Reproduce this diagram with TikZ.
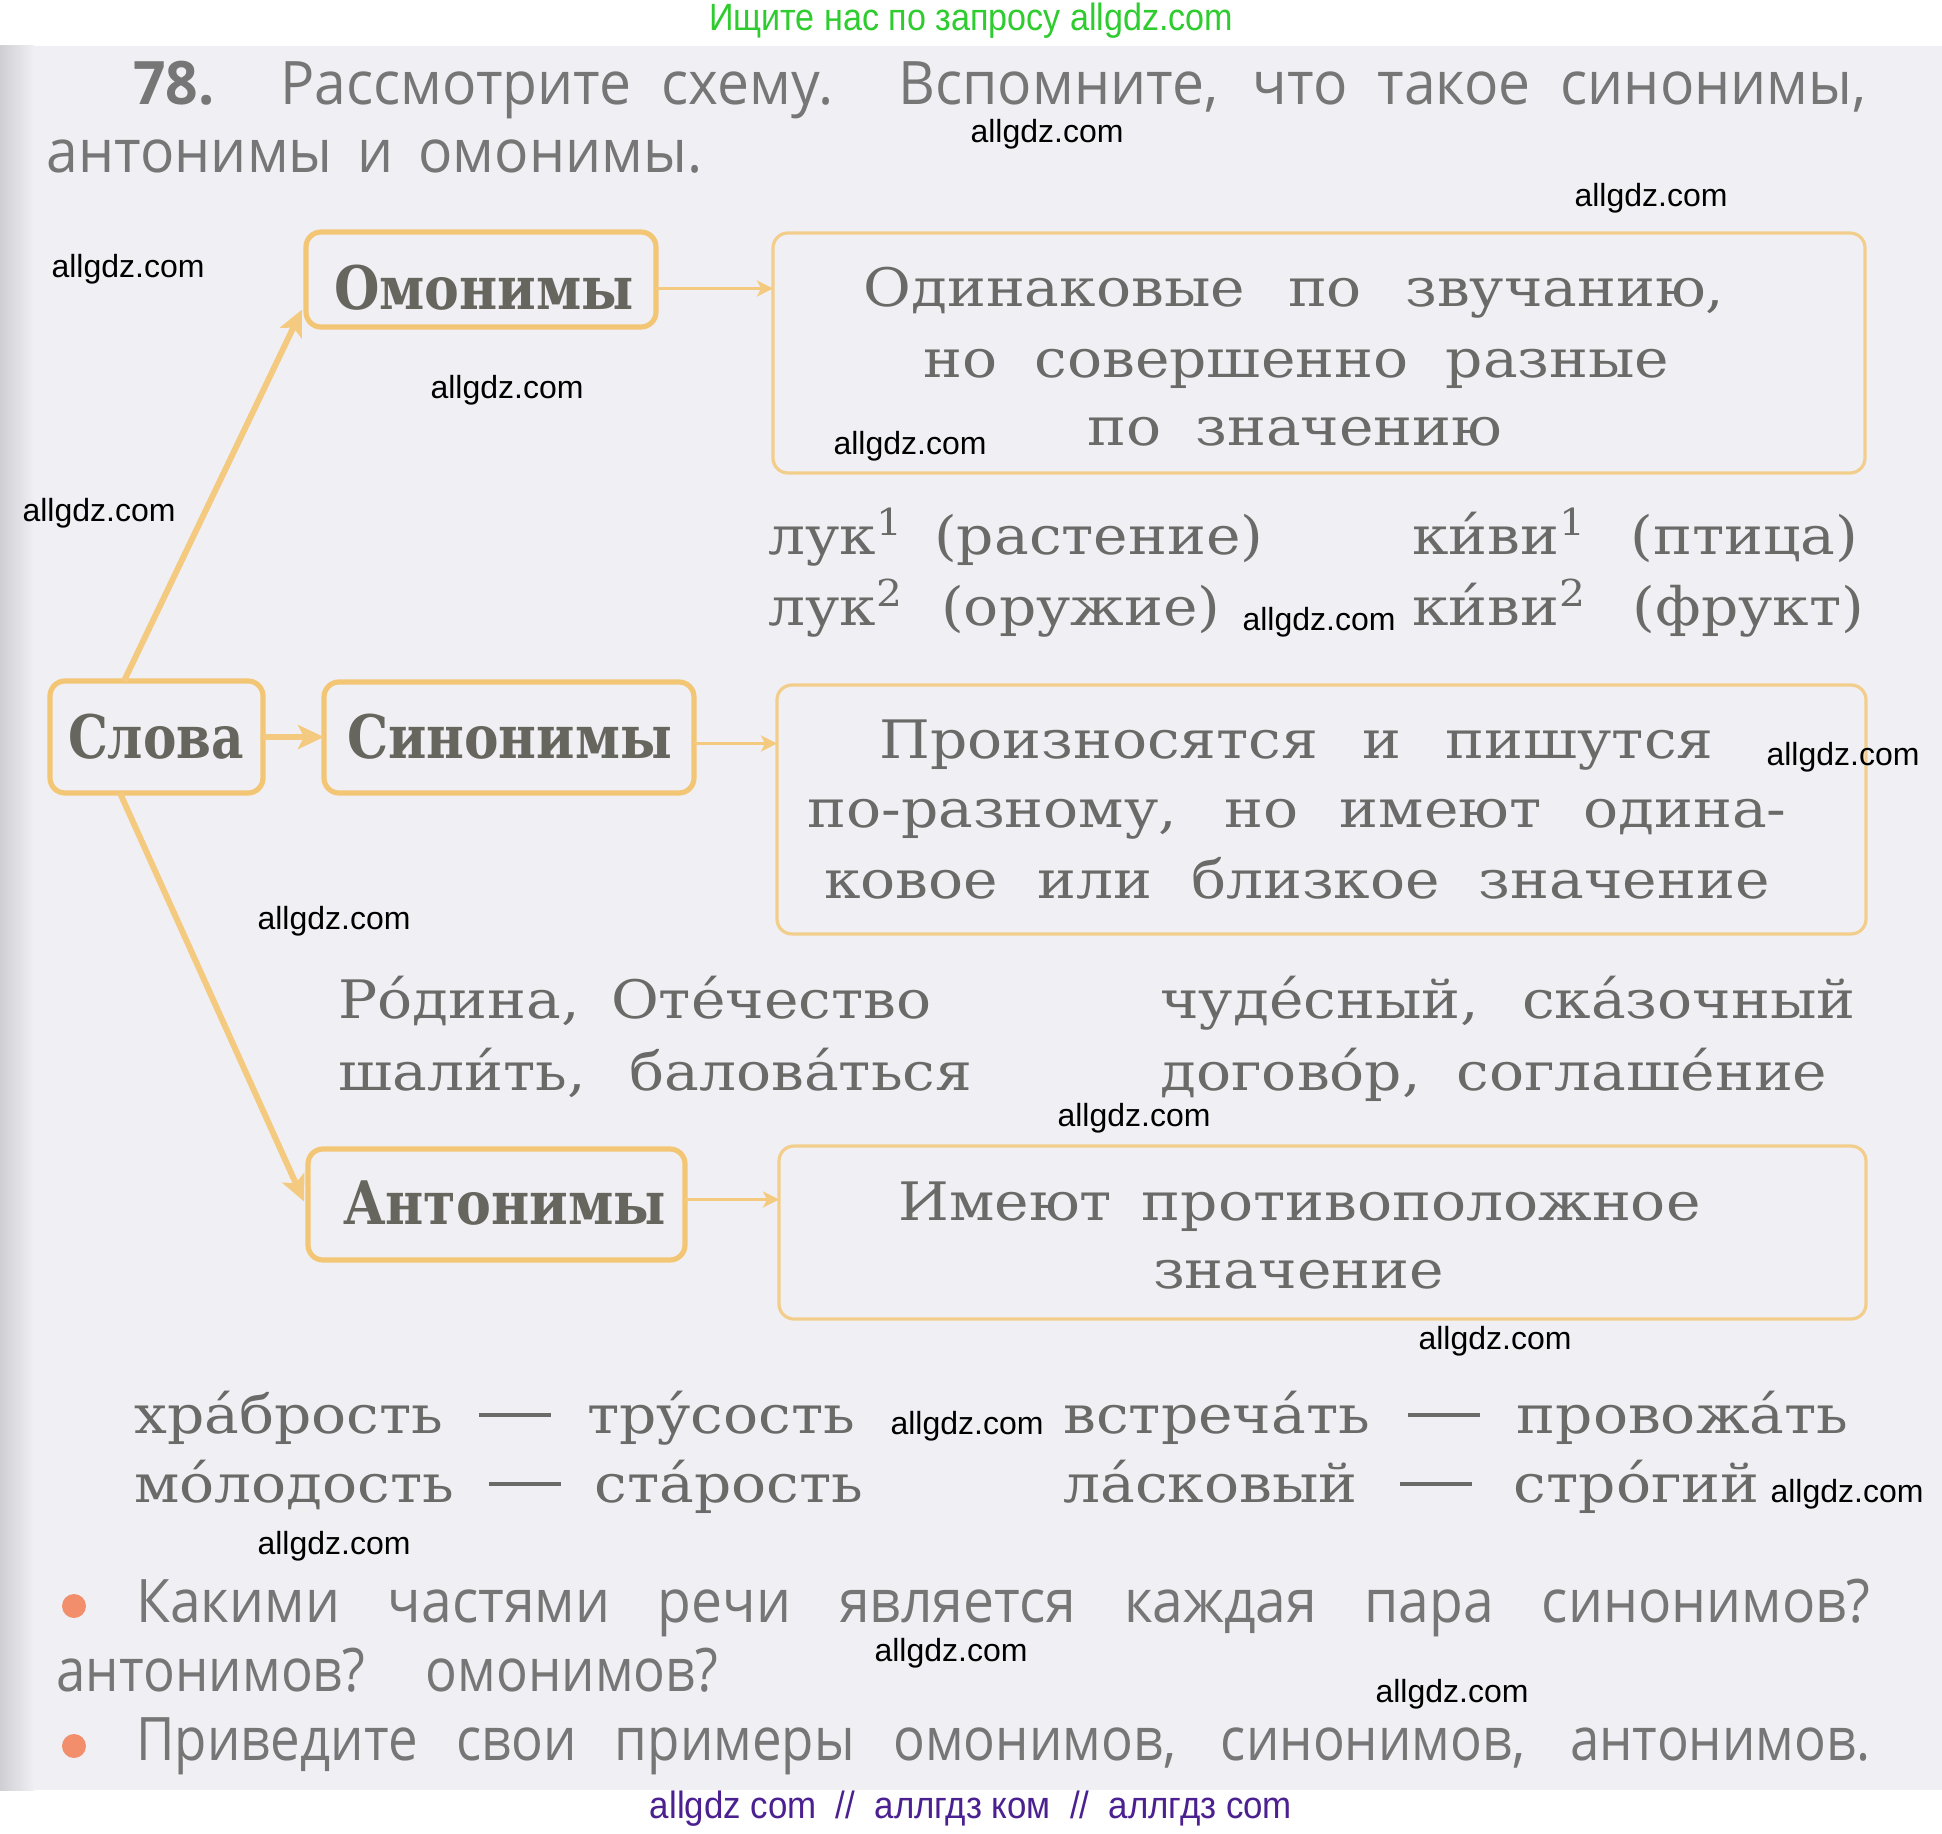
\documentclass[tikz,border=0pt]{standalone}
\usepackage{fontspec}
\usepackage{graphicx}
\setmainfont{DejaVu Serif}
\newfontfamily\serf[FakeStretch=1.10]{DejaVu Serif}
\newfontfamily\sansf[FakeStretch=0.95]{Open Sans}
\newfontfamily\sansq[FakeStretch=0.88]{Open Sans}
\newfontfamily\sansw[FakeStretch=0.92]{Open Sans}
\newfontfamily\wmf{Liberation Sans}
\usetikzlibrary{arrows.meta,calc,fit}
\definecolor{bg}{HTML}{F0F0F4}
\definecolor{gut}{HTML}{CFCFD3}
\definecolor{boxc}{HTML}{F3C676}
\definecolor{dboxc}{HTML}{F2CD8C}
\definecolor{arrc}{HTML}{F4CA80}
\definecolor{txt}{HTML}{6A6A68}
\definecolor{lab}{HTML}{66665E}
\definecolor{titc}{HTML}{767676}
\definecolor{grn}{HTML}{2ECC2E}
\definecolor{pur}{HTML}{4B2090}
\definecolor{bul}{HTML}{F28E6C}
\newcommand\jl[2]{\makebox[#1][s]{#2}}
\newcommand\fw[2]{\resizebox{#1}{\height}{#2}}
\newcommand\dsh{\rule[8pt]{36pt}{1.8pt}}
\tikzset{
  lbox/.style={draw=boxc, line width=2.6pt, rounded corners=7.5pt, inner sep=0pt, outer sep=0pt},
  dbox/.style={draw=dboxc, line width=1.6pt, rounded corners=7.5pt, inner sep=0pt, outer sep=0pt},
  ln/.style={anchor=base west, inner sep=0pt, text=txt, font=\serf\fontsize{26.5}{32}\selectfont},
  lnc/.style={anchor=base, inner sep=0pt, text=txt, font=\serf\fontsize{26.5}{32}\selectfont},
  labt/.style={anchor=base, inner sep=0pt, text=lab, font=\serf\bfseries\fontsize{30}{36}\selectfont},
  sln/.style={anchor=base west, inner sep=0pt, text=titc, font=\sansf\fontsize{30}{36}\selectfont},
  qln/.style={anchor=base west, inner sep=0pt, text=titc, font=\sansq\fontsize{30}{36}\selectfont},
  wm/.style={inner sep=0pt, text=black, font=\wmf\fontsize{16}{19}\selectfont},
  bigarr/.style={draw=arrc, line width=3pt, -{Stealth[length=13pt,width=12pt,inset=3pt]}},
  thinarr/.style={draw=arrc, line width=1.5pt, -{Stealth[length=8pt,width=8pt,inset=2pt]}},
}
\begin{document}
\begin{tikzpicture}[x=0.5pt,y=-0.5pt]
\useasboundingbox (0,0) rectangle (1942,1834);
\fill[white] (0,0) rectangle (1942,1834);
\fill[bg] (0,46) rectangle (1942,1790);
\shade[left color=gut, right color=bg] (0,46) rectangle (34,1790);

% banner
\node[inner sep=0pt, text=grn, font=\wmf\fontsize{19}{22}\selectfont] (banner) at (971,21) {\fw{262pt}{Ищите нас по запросу allgdz.com}};
\node[inner sep=0pt, text=pur, font=\wmf\fontsize{19}{22}\selectfont] (footer) at (971,1809) {\fw{321pt}{allgdz com~~//~~аллгдз ком~~//~~аллгдз com}};

% title
\node[sln] (t1) at (133,105) {\jl{866.5pt}{\textbf{78.} Рассмотрите схему. Вспомните, что такое синонимы,}};
\node[sln] (t2) at (46,173) {\jl{328pt}{антонимы и омонимы.}};

% boxes
\node[lbox, fit={(306,232)(656,327)}] (om) {};
\node[lbox, fit={(50,681)(263,793)}] (slova) {};
\node[lbox, fit={(324,682)(694,793)}] (sin) {};
\node[lbox, fit={(308,1149)(685,1260)}] (ant) {};
\node[dbox, fit={(773,233)(1865,473)}] (d1) {};
\node[dbox, fit={(777,685)(1866,934)}] (d2) {};
\node[dbox, fit={(779,1146)(1866,1319)}] (d3) {};

% labels
\node[labt] (omt) at (484,310) {\fw{150pt}{Омонимы}};
\node[labt] (slt) at (156,758) {\fw{88pt}{Слова}};
\node[labt] (sit) at (509.5,758) {\fw{162.5pt}{Синонимы}};
\node[labt] (ant2) at (504.5,1224) {\fw{161.5pt}{Антонимы}};

% definitions
\node[ln] (d1a) at (863,307) {\jl{430.5pt}{Одинаковые по звучанию,}};
\node[ln] (d1b) at (923,378) {\jl{373pt}{но совершенно разные}};
\node[ln] (d1c) at (1087,446) {\jl{207.5pt}{по значению}};
\node[ln] (d2a) at (879,758) {\jl{417pt}{Произносятся и пишутся}};
\node[ln] (d2b) at (807,827) {\jl{489.5pt}{по-разному, но имеют одина-}};
\node[ln] (d2c) at (824,898) {\jl{472.5pt}{ковое или близкое значение}};
\node[ln] (d3a) at (898,1220) {\jl{401pt}{Имеют противоположное}};
\node[lnc] (d3b) at (1298.5,1288) {значение};

% homonym examples
\node[ln] (e1) at (768,554) {\jl{247.5pt}{лук\textsuperscript{1} (растение)}};
\node[ln] (e2) at (1412,554) {\jl{223pt}{ки́ви\textsuperscript{1} (птица)}};
\node[ln] (e3) at (768,625) {\jl{226pt}{лук\textsuperscript{2} (оружие)}};
\node[ln] (e4) at (1412,625) {\jl{226pt}{ки́ви\textsuperscript{2} (фрукт)}};

% synonym examples
\node[ln] (s1) at (338,1018) {\jl{296.5pt}{Ро́дина, Оте́чество}};
\node[ln] (s2) at (1160,1018) {\jl{347.5pt}{чуде́сный, ска́зочный}};
\node[ln] (s3) at (338,1090) {\jl{317pt}{шали́ть, балова́ться}};
\node[ln] (s4) at (1160,1090) {\jl{333.5pt}{догово́р, соглаше́ние}};

% antonym examples
\node[ln] (a1) at (134,1433) {\jl{360.5pt}{хра́брость \dsh{} тру́сость}};
\node[ln] (a2) at (1063,1433) {\jl{392.5pt}{встреча́ть \dsh{} провожа́ть}};
\node[ln] (a3) at (134,1502) {\jl{364.5pt}{мо́лодость \dsh{} ста́рость}};
\node[ln] (a4) at (1063,1502) {\jl{348pt}{ла́сковый \dsh{} стро́гий}};

% questions
\fill[bul] (74,1606) circle[radius=12];
\fill[bul] (74,1746) circle[radius=12];
\node[qln, font=\sansw\fontsize{30}{36}\selectfont] (q1) at (136,1622) {\jl{867pt}{Какими частями речи является каждая пара синонимов?}};
\node[qln] (q2) at (56,1691) {\jl{331pt}{антонимов? омонимов?}};
\node[qln] (q3) at (136,1760) {\jl{867pt}{Приведите свои примеры омонимов, синонимов, антонимов.}};

% arrows
\coordinate (p1) at ($(slova.north west)+(74,0)$);
\coordinate (p2) at ($(om.west)+(-4,30)$);
\draw[bigarr] (p1) -- (p2);
\coordinate (p3) at ($(slova.south west)+(70,0)$);
\coordinate (p4) at ($(ant.west)+(-4,-3)$);
\draw[bigarr] (p3) -- (p4);
\draw[bigarr] (slova.east) -- (slova.east -| sin.west);
\coordinate (h1) at ($(om.east)+(0,9)$);
\draw[thinarr] (h1) -- (h1 -| d1.west);
\coordinate (h2) at ($(sin.east)+(0,6)$);
\draw[thinarr] (h2) -- (h2 -| d2.west);
\coordinate (h3) at ($(ant.east)+(0,-5)$);
\draw[thinarr] (h3) -- (h3 -| d3.west);

% watermarks
\node[wm] (w1) at (1047,134) {allgdz.com};
\node[wm] (w2) at (1651,198) {allgdz.com};
\node[wm] (w3) at (128,269) {allgdz.com};
\node[wm] (w4) at (507,390) {allgdz.com};
\node[wm] (w5) at (910,446) {allgdz.com};
\node[wm] (w6) at (99,513) {allgdz.com};
\node[wm] (w7) at (1319,622) {allgdz.com};
\node[wm] (w8) at (1843,757) {allgdz.com};
\node[wm] (w9) at (334,921) {allgdz.com};
\node[wm] (w10) at (1134,1118) {allgdz.com};
\node[wm] (w11) at (1495,1341) {allgdz.com};
\node[wm] (w12) at (967,1426) {allgdz.com};
\node[wm] (w13) at (1847,1494) {allgdz.com};
\node[wm] (w14) at (334,1546) {allgdz.com};
\node[wm] (w15) at (951,1653) {allgdz.com};
\node[wm] (w16) at (1452,1694) {allgdz.com};
\end{tikzpicture}
\end{document}
